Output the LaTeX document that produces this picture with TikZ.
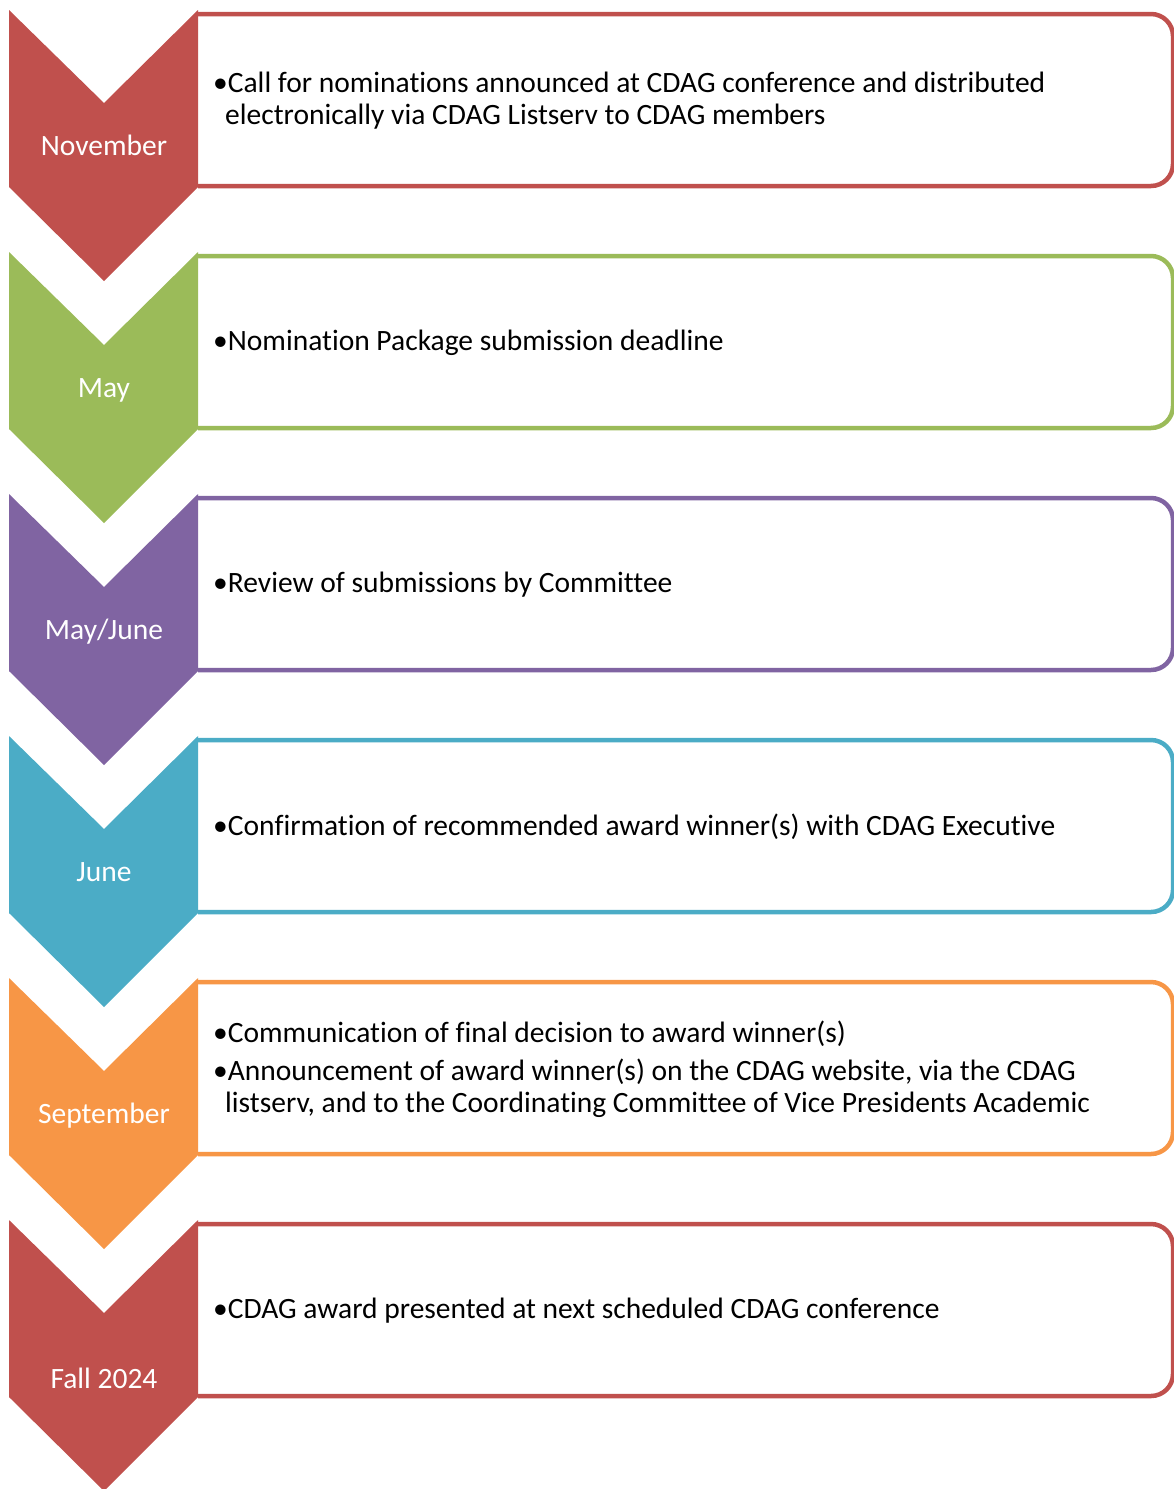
\documentclass[tikz,border=0pt]{standalone}
\usepackage{fontspec}
\setmainfont{Carlito}[Ligatures=NoCommon]
\usepackage{tikz}
\usetikzlibrary{positioning}

\definecolor{novred}{HTML}{C0504D}
\definecolor{maygreen}{HTML}{9BBB59}
\definecolor{junpurple}{HTML}{8064A2}
\definecolor{junblue}{HTML}{4BACC6}
\definecolor{seporange}{HTML}{F79646}

\begin{document}
\begin{tikzpicture}[x=1pt, y=-1pt,
    month/.style={text=white, font=\fontsize{29.5}{32}\selectfont, anchor=base, inner sep=0pt},
    item/.style={anchor=west, align=left, inner sep=0pt, font=\fontsize{29.5}{32}\selectfont},
    box/.style={line width=4.5pt, fill=white, rounded corners=22pt}]

    \useasboundingbox (0,0) rectangle (1173,1489);

    % Boxes on the right
    \draw[box, draw=novred] (198,14) -- (1173,14) -- (1173,186) -- (198,186);
    \draw[box, draw=maygreen] (198,256) -- (1173,256) -- (1173,428) -- (198,428);
    \draw[box, draw=junpurple] (198,498) -- (1173,498) -- (1173,670) -- (198,670);
    \draw[box, draw=junblue] (198,740) -- (1173,740) -- (1173,912) -- (198,912);
    \draw[box, draw=seporange] (198,982) -- (1173,982) -- (1173,1154) -- (198,1154);
    \draw[box, draw=novred] (198,1224) -- (1173,1224) -- (1173,1396) -- (198,1396);

    % Chevrons down the left side
    \fill[novred] (9,10) -- ++(95,93) -- ++(94,-93) -- ++(0,177) -- ++(-94,94) -- ++(-95,-94) -- cycle;
    \fill[maygreen] (9,252) -- ++(95,93) -- ++(94,-93) -- ++(0,177) -- ++(-94,94) -- ++(-95,-94) -- cycle;
    \fill[junpurple] (9,494) -- ++(95,93) -- ++(94,-93) -- ++(0,177) -- ++(-94,94) -- ++(-95,-94) -- cycle;
    \fill[junblue] (9,736) -- ++(95,93) -- ++(94,-93) -- ++(0,177) -- ++(-94,94) -- ++(-95,-94) -- cycle;
    \fill[seporange] (9,978) -- ++(95,93) -- ++(94,-93) -- ++(0,177) -- ++(-94,94) -- ++(-95,-94) -- cycle;
    \fill[novred] (9,1220) -- ++(95,93) -- ++(94,-93) -- ++(0,177) -- ++(-94,94) -- ++(-95,-94) -- cycle;

    % Month labels
    \node[month] (nov) at (104,155) {November};
    \node[month] (may) at (104,397) {May};
    \node[month] (mayjun) at (104,639) {May/June};
    \node[month] (jun) at (104,881) {June};
    \node[month] (sep) at (104,1123) {September};
    \node[month] (fall) at (104,1388) {Fall 2024};

    % Bullet text in the boxes
    \node[item] (call) at (213,101) {•Call for nominations announced at CDAG conference and distributed\\
        \hspace*{12pt}electronically via CDAG Listserv to CDAG members};
    \node[item] (deadline) at (213,343) {•Nomination Package submission deadline};
    \node[item] (review) at (213,585) {•Review of submissions by Committee};
    \node[item] (confirm) at (213,827) {•Confirmation of recommended award winner(s) with CDAG Executive};
    \node[item] (announce) at (213,1069) {•Communication of final decision to award winner(s)\\[6pt]
        •Announcement of award winner(s) on the CDAG website, via the CDAG\\
        \hspace*{12pt}listserv, and to the Coordinating Committee of Vice Presidents Academic};
    \node[item] (present) at (213,1311) {•CDAG award presented at next scheduled CDAG conference};

\end{tikzpicture}
\end{document}
